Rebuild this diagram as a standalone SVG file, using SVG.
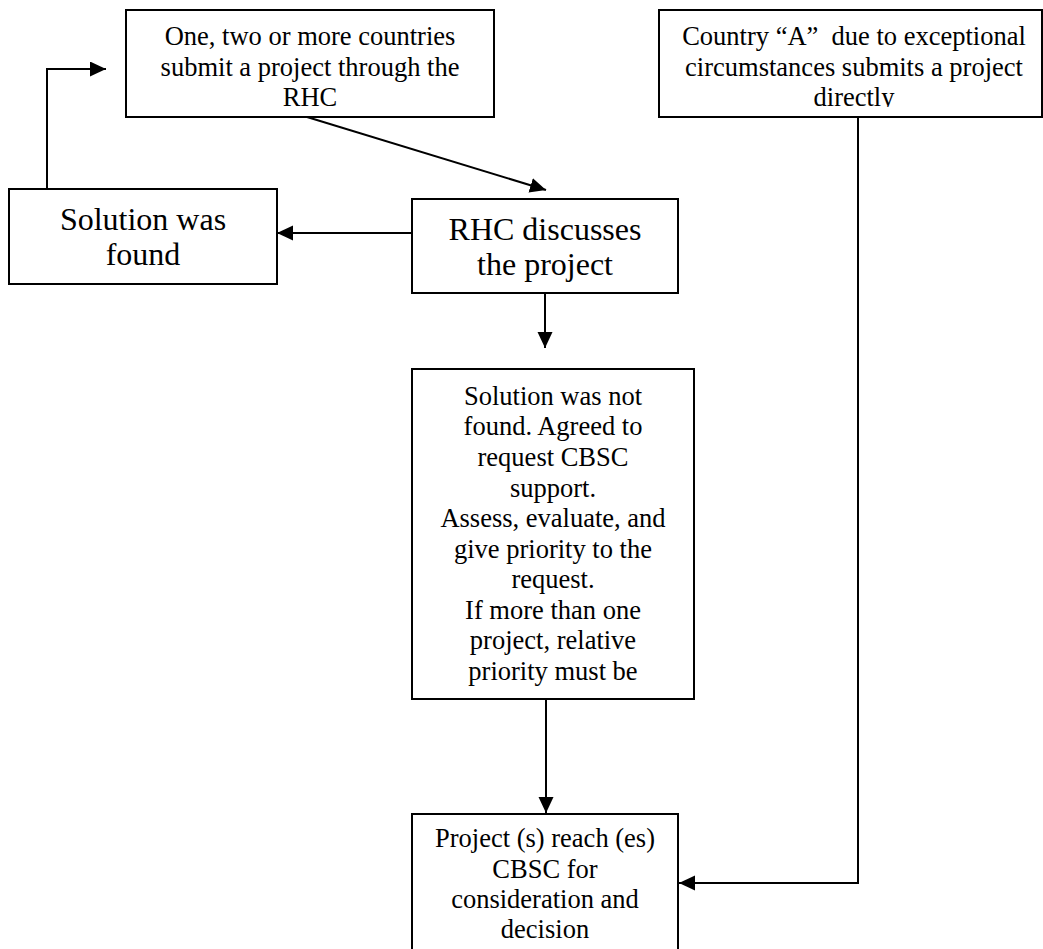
<svg xmlns="http://www.w3.org/2000/svg" width="1043" height="949" viewBox="0 0 1043 949">
<style>
.box{fill:#fff;stroke:#000;stroke-width:2}
.t{font-family:"Liberation Serif","Times New Roman",serif;font-size:26.5px;fill:#000;text-anchor:middle;white-space:pre}
.tl{font-family:"Liberation Serif","Times New Roman",serif;font-size:32px;fill:#000;text-anchor:middle}
.c{fill:none;stroke:#000;stroke-width:2}
</style>
<defs>
<marker id="ah" markerUnits="userSpaceOnUse" markerWidth="17" markerHeight="16" refX="16" refY="7.5" orient="auto">
<path d="M0,0 L16,7.5 L0,15 z" fill="#000"/>
</marker>
<clipPath id="clipA"><rect x="659" y="10" width="383" height="97"/></clipPath>
</defs>
<rect width="1043" height="949" fill="#fff"/>
<g id="connectors">
<line class="c" x1="307" y1="117" x2="546" y2="190" marker-end="url(#ah)"/>
<line class="c" x1="412" y1="233" x2="277" y2="233" marker-end="url(#ah)"/>
<path class="c" d="M47,189 V69 H106" marker-end="url(#ah)"/>
<line class="c" x1="545" y1="293" x2="545" y2="348" marker-end="url(#ah)"/>
<line class="c" x1="546" y1="699" x2="546" y2="813" marker-end="url(#ah)"/>
<path class="c" d="M858,117 V883 H679" marker-end="url(#ah)"/>
</g>
<g id="node-submit">
<rect class="box" x="126" y="10" width="368" height="107"/>
<text class="t" x="310" y="45">One, two or more countries</text>
<text class="t" x="310" y="76">submit a project through the</text>
<text class="t" x="310" y="106">RHC</text>
</g>
<g id="node-countryA">
<rect class="box" x="659" y="10" width="383" height="107"/>
<g clip-path="url(#clipA)">
<text class="t" x="854" y="45" xml:space="preserve">Country “A”  due to exceptional</text>
<text class="t" x="854" y="76">circumstances submits a project</text>
<text class="t" x="854" y="106">directly</text>
</g>
</g>
<g id="node-found">
<rect class="box" x="9" y="189" width="268" height="95"/>
<text class="tl" x="143" y="230">Solution was</text>
<text class="tl" x="143" y="265">found</text>
</g>
<g id="node-rhc">
<rect class="box" x="412" y="199" width="266" height="94"/>
<text class="tl" x="545" y="240">RHC discusses</text>
<text class="tl" x="545" y="275">the project</text>
</g>
<g id="node-notfound">
<rect class="box" x="412" y="369" width="282" height="330"/>
<text class="t" x="553" y="405">Solution was not</text>
<text class="t" x="553" y="435">found. Agreed to</text>
<text class="t" x="553" y="466">request CBSC</text>
<text class="t" x="553" y="497">support.</text>
<text class="t" x="553" y="527">Assess, evaluate, and</text>
<text class="t" x="553" y="558">give priority to the</text>
<text class="t" x="553" y="588">request.</text>
<text class="t" x="553" y="619">If more than one</text>
<text class="t" x="553" y="649">project, relative</text>
<text class="t" x="553" y="680">priority must be</text>
</g>
<g id="node-cbsc">
<rect class="box" x="412" y="814" width="266" height="150"/>
<text class="t" x="545" y="847">Project (s) reach (es)</text>
<text class="t" x="545" y="878">CBSC for</text>
<text class="t" x="545" y="908">consideration and</text>
<text class="t" x="545" y="938">decision</text>
</g>
</svg>
